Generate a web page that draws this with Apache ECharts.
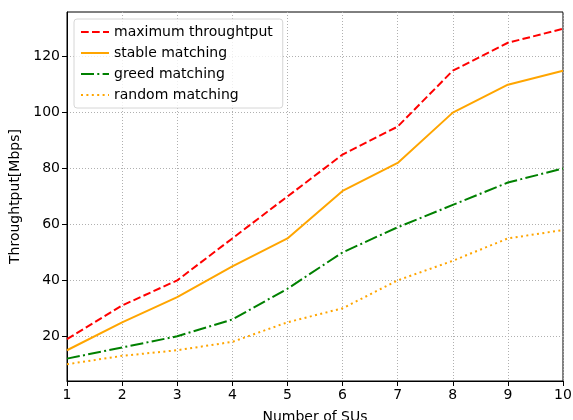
<!DOCTYPE html>
<html>
<head>
<meta charset="utf-8">
<script src="https://cdn.jsdelivr.net/npm/echarts@6/dist/echarts.min.js"></script>
<style>
  html, body { margin: 0; padding: 0; background: #fff; }
  #chart { width: 573px; height: 420px; }
</style>
</head>
<body>
<div id="chart"></div>
<script>
// values
var suCounts = [1, 2, 3, 4, 5, 6, 7, 8, 9, 10]
var maxThroughput = [19, 31, 40, 55, 70, 85, 95, 115, 125, 130]
var stableMatching = [15, 25, 34, 45, 55, 72, 82, 100, 110, 115]
var greedMatching = [12, 16, 20, 26, 37, 50, 59, 67, 75, 80]
var randomMatching = [10, 13, 15, 18, 25, 30, 40, 47, 55, 58]
var yTicks = [20, 40, 60, 80, 100, 120]

function pairs(vals) {
  return suCounts.map(function(x, i) { return [x, vals[i]] })
}

var font = 'DejaVu Sans'
var chart = echarts.init(document.getElementById('chart'))

function lineSeries(name, vals, color, type) {
  return {
    name: name,
    type: 'line',
    data: pairs(vals),
    symbol: 'none',
    animation: false,
    lineStyle: { color: color, width: 2, type: type, cap: 'butt' },
    itemStyle: { color: color }
  }
}

chart.setOption({
  animation: false,
  textStyle: { fontFamily: font },
  grid: {
    left: 67,
    right: 10,
    top: 12,
    bottom: 39,
    outerBoundsMode: 'none',
    containLabel: false,
    show: true,
    borderColor: '#000',
    borderWidth: 1,
    backgroundColor: 'transparent'
  },
  legend: {
    left: 74,
    top: 19,
    orient: 'vertical',
    itemWidth: 28,
    itemHeight: 14,
    itemGap: 7,
    padding: [6, 10, 6, 6],
    borderColor: '#d6d6d6',
    borderWidth: 1,
    borderRadius: 3,
    backgroundColor: 'rgba(255,255,255,0.8)',
    itemStyle: { opacity: 0 },
    textStyle: { fontFamily: font, fontSize: 14, color: '#000' },
    data: ['maximum throughtput', 'stable matching', 'greed matching', 'random matching']
  },
  xAxis: {
    type: 'value',
    min: 1,
    max: 10,
    interval: 1,
    name: 'Number of SUs',
    nameLocation: 'middle',
    nameGap: 29,
    nameTextStyle: { fontFamily: font, fontSize: 14, color: '#000' },
    axisLine: { lineStyle: { color: '#000', width: 1 } },
    axisTick: { inside: false, length: 5, lineStyle: { color: '#000' } },
    axisLabel: { fontFamily: font, fontSize: 14, color: '#000', margin: 7 },
    splitLine: { show: true, lineStyle: { color: '#b0b0b0', type: [1, 2], width: 1 } }
  },
  yAxis: {
    type: 'value',
    min: 4,
    max: 136,
    name: 'Throughtput[Mbps]',
    nameLocation: 'middle',
    nameGap: 41,
    nameTextStyle: { fontFamily: font, fontSize: 14, color: '#000' },
    axisLine: { show: true, lineStyle: { color: '#000', width: 1 } },
    axisTick: { show: true, length: 5, customValues: yTicks, lineStyle: { color: '#000' } },
    axisLabel: { fontFamily: font, fontSize: 14, color: '#000', margin: 7, customValues: yTicks },
    splitLine: { show: true, lineStyle: { color: '#b0b0b0', type: [1, 2], width: 1 } }
  },
  series: [
    lineSeries('maximum throughtput', maxThroughput, '#ff0000', [7.7, 3.3]),
    lineSeries('stable matching', stableMatching, '#ffa500', 'solid'),
    lineSeries('greed matching', greedMatching, '#008000', [13, 3.3, 2, 3.3]),
    lineSeries('random matching', randomMatching, '#ffa500', [2, 3.4])
  ]
})
</script>
</body>
</html>
